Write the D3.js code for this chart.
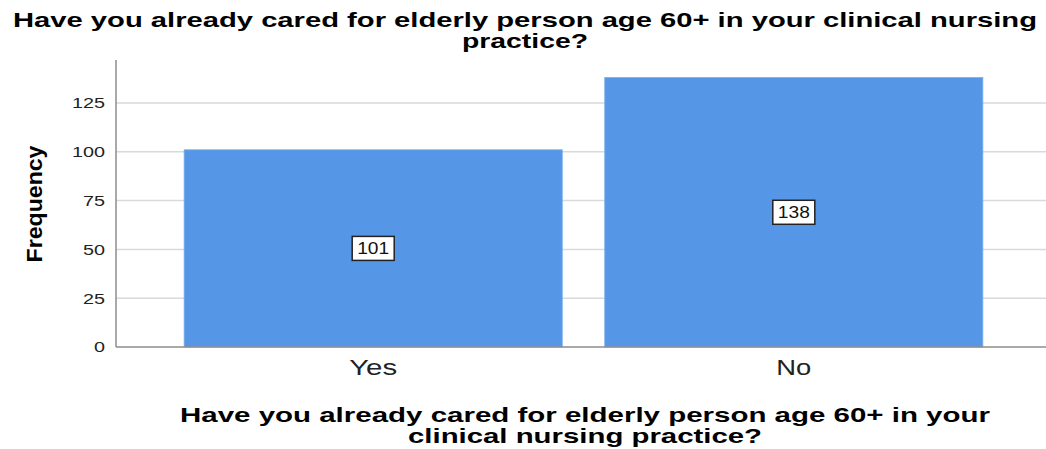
<!DOCTYPE html>
<html>
<head>
<meta charset="utf-8">
<script src="https://cdn.jsdelivr.net/npm/d3@7"></script>
<style>
  body { margin: 0; background: #fff; }
  text { font-family: "Liberation Sans", Arial, sans-serif; }
</style>
</head>
<body>
<div id="chart"></div>
<script>
var categories = ["Yes", "No"];
var counts = [101, 138];
var yTicks = [0, 25, 50, 75, 100, 125];
var titleLines = ["Have you already cared for elderly person age 60+ in your clinical nursing", "practice?"];
var xTitleLines = ["Have you already cared for elderly person age 60+ in your", "clinical nursing practice?"];

var svgWidth = 1046;
var svgHeight = 449;

var svg = d3.select("#chart")
  .append("svg")
  .attr("width", svgWidth)
  .attr("height", svgHeight);

var plotLeft = 116, plotRight = 1051, plotTop = 60, plotBottom = 347;

var xScale = d3.scaleBand()
  .domain(categories)
  .range([plotLeft, plotRight])
  .paddingInner(0.101)
  .paddingOuter(0.162);

var yScale = d3.scaleLinear()
  .domain([0, 147])
  .range([plotBottom, plotTop]);

// gridlines
svg.append("g")
  .selectAll("line")
  .data(yTicks.filter(d => d > 0))
  .enter()
  .append("line")
  .attr("x1", plotLeft)
  .attr("x2", 1046)
  .attr("y1", d => yScale(d))
  .attr("y2", d => yScale(d))
  .attr("stroke", "#d9d9d9")
  .attr("stroke-width", 1.5);

// bars
svg.append("g")
  .selectAll("rect")
  .data(counts)
  .enter()
  .append("rect")
  .attr("x", (d, i) => xScale(categories[i]))
  .attr("y", d => yScale(d))
  .attr("width", xScale.bandwidth())
  .attr("height", d => plotBottom - yScale(d))
  .attr("fill", "#5597e6")
  .attr("stroke", "#79aeea")
  .attr("stroke-width", 0.8);

// y axis
var leftAxis = d3.axisLeft(yScale).tickValues(yTicks).tickSize(0).tickPadding(11);
var yAxis = svg.append("g")
  .attr("transform", `translate(${plotLeft}, 0)`)
  .call(leftAxis);
yAxis.select(".domain").remove();
yAxis.selectAll("text")
  .attr("font-size", "15px")
  .attr("fill", "#222")
  .attr("textLength", d => String(d).length * 11)
  .attr("lengthAdjust", "spacingAndGlyphs")
  .style("font-family", "'Liberation Sans', Arial, sans-serif");

svg.append("line")
  .attr("x1", plotLeft).attr("x2", plotLeft)
  .attr("y1", plotTop).attr("y2", plotBottom)
  .attr("stroke", "#8c8c8c")
  .attr("stroke-width", 1.5);

// x axis
var bottomAxis = d3.axisBottom(xScale).tickSize(0).tickPadding(12);
var xAxis = svg.append("g")
  .attr("transform", `translate(0, ${plotBottom})`)
  .call(bottomAxis);
xAxis.select(".domain").remove();
xAxis.selectAll("text")
  .attr("font-size", "22px")
  .attr("fill", "#222")
  .attr("textLength", d => d === "Yes" ? 48 : 35)
  .attr("lengthAdjust", "spacingAndGlyphs")
  .style("font-family", "'Liberation Sans', Arial, sans-serif");

svg.append("line")
  .attr("x1", plotLeft).attr("x2", 1046)
  .attr("y1", plotBottom).attr("y2", plotBottom)
  .attr("stroke", "#8c8c8c")
  .attr("stroke-width", 1.5);

// value labels
var labels = svg.append("g")
  .selectAll("g")
  .data(counts)
  .enter()
  .append("g")
  .attr("transform", (d, i) => `translate(${xScale(categories[i]) + xScale.bandwidth() / 2}, ${yScale(d / 2)})`);

labels.append("rect")
  .attr("x", -21)
  .attr("y", -12)
  .attr("width", 42)
  .attr("height", 24)
  .attr("fill", "#fff")
  .attr("stroke", "#222")
  .attr("stroke-width", 1.5);

labels.append("text")
  .attr("text-anchor", "middle")
  .attr("dy", "0.36em")
  .attr("font-size", "16px")
  .attr("fill", "#111")
  .attr("textLength", 32)
  .attr("lengthAdjust", "spacingAndGlyphs")
  .text(d => d);

// y axis title
svg.append("text")
  .attr("transform", "translate(42, 204) rotate(-90)")
  .attr("text-anchor", "middle")
  .attr("font-size", "22px")
  .attr("font-weight", "bold")
  .attr("textLength", 117)
  .attr("lengthAdjust", "spacingAndGlyphs")
  .text("Frequency");

// chart title
var titleWidths = [1024, 126];
svg.append("g")
  .selectAll("text")
  .data(titleLines)
  .enter()
  .append("text")
  .attr("x", 525)
  .attr("y", (d, i) => 27 + i * 21)
  .attr("text-anchor", "middle")
  .attr("font-size", "21px")
  .attr("font-weight", "bold")
  .attr("textLength", (d, i) => titleWidths[i])
  .attr("lengthAdjust", "spacingAndGlyphs")
  .text(d => d);

// x axis title
var xTitleWidths = [810, 354];
svg.append("g")
  .selectAll("text")
  .data(xTitleLines)
  .enter()
  .append("text")
  .attr("x", 585)
  .attr("y", (d, i) => 422 + i * 21)
  .attr("text-anchor", "middle")
  .attr("font-size", "21px")
  .attr("font-weight", "bold")
  .attr("textLength", (d, i) => xTitleWidths[i])
  .attr("lengthAdjust", "spacingAndGlyphs")
  .text(d => d);
</script>
</body>
</html>
